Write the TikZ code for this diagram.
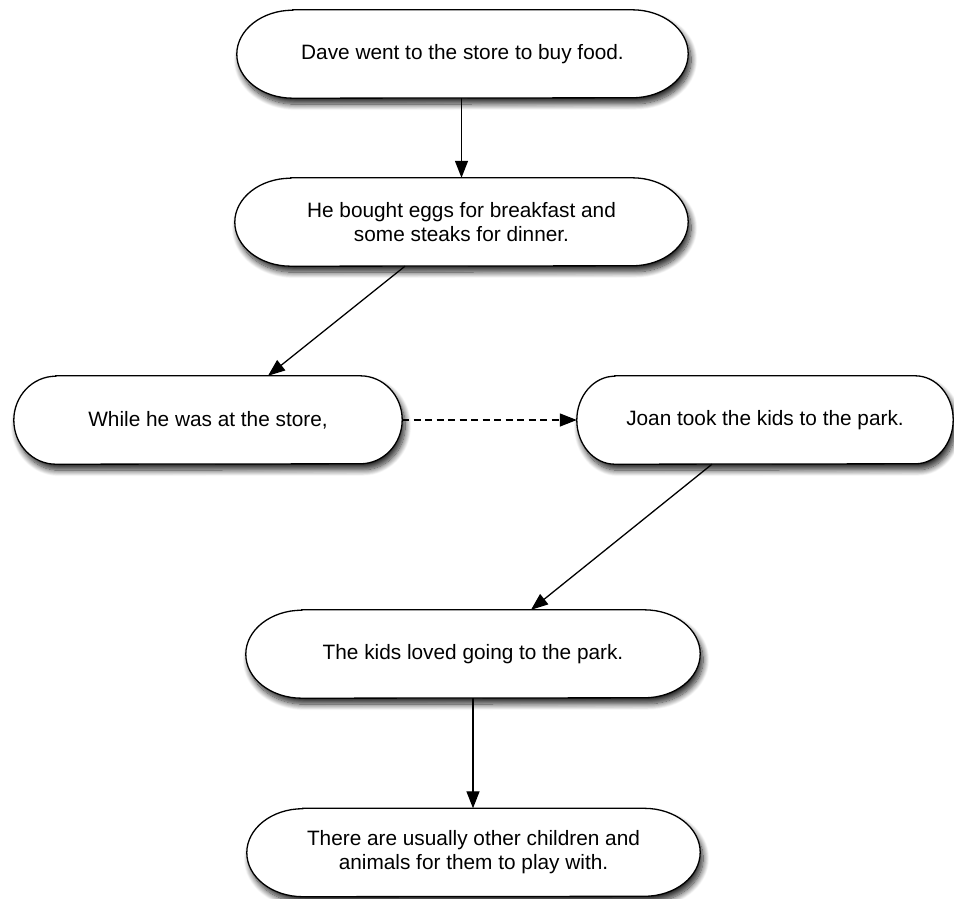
\documentclass[tikz,border=0pt]{standalone}
\usepackage{fontspec}
\setmainfont{Liberation Sans}
\usetikzlibrary{calc,arrows.meta,backgrounds,shadows.blur}

\tikzset{
  txt/.style={inner sep=0pt, minimum height=88pt, align=center,
    font=\fontsize{20.8}{24}\selectfont},
  pill/.style={draw=black, line width=1.3pt, fill=white,
    blur shadow={shadow xshift=3pt, shadow yshift=-6pt,
      shadow blur radius=6pt, shadow blur steps=12, shadow opacity=85}},
  link/.style={draw=black, line width=1.3pt,
    -{Triangle[length=17pt, width=13pt]}},
  dashlink/.style={link, dash pattern=on 7pt off 4.5pt},
}

% stadium outline behind a named text node; #2 is the horizontal end radius
\newcommand\pillaround[2]{%
  \path[pill] ($(#1.north west)+(#2,0)$) -- ($(#1.north east)+(-#2,0)$)
    arc[start angle=90, end angle=-90, x radius=#2pt, y radius=44pt]
    -- ($(#1.south west)+(#2,0)$)
    arc[start angle=270, end angle=90, x radius=#2pt, y radius=44pt]
    -- cycle;}

\begin{document}
\begin{tikzpicture}[x=1pt, y=1pt]
\useasboundingbox (0,0) rectangle (954,-898);

\node[txt, minimum width=451pt] (n1) at (462.5,-54) {Dave went to the store to buy food.};
\node[txt, minimum width=453pt] (n2) at (461.5,-222) {He bought eggs for breakfast and\\some steaks for dinner.};
\node[txt, minimum width=388pt] (n3) at (208,-420) {While he was at the store,};
\node[txt, minimum width=376pt] (n4) at (765,-420) {Joan took the kids to the park.};
\node[txt, minimum width=454pt] (n5) at (473,-654) {The kids loved going to the park.};
\node[txt, minimum width=453pt] (n6) at (473.5,-852.5) {There are usually other children and\\animals for them to play with.};

\begin{scope}[on background layer]
  \pillaround{n1}{56}
  \pillaround{n2}{56}
  \pillaround{n3}{42}
  \pillaround{n4}{38}
  \pillaround{n5}{56}
  \pillaround{n6}{56}
\end{scope}

\draw[link] ([xshift=-1pt]n1.south) -- ([xshift=-1pt]n1.south |- n2.north);
\draw[link] ([xshift=-56.5pt]n2.south) -- ([xshift=60pt]n3.north);
\draw[dashlink] (n3.east) -- (n4.west);
\draw[link] ([xshift=-53pt]n4.south) -- ([xshift=58pt]n5.north);
\draw[link] (n5.south) -- (n5.south |- n6.north);
\end{tikzpicture}
\end{document}
